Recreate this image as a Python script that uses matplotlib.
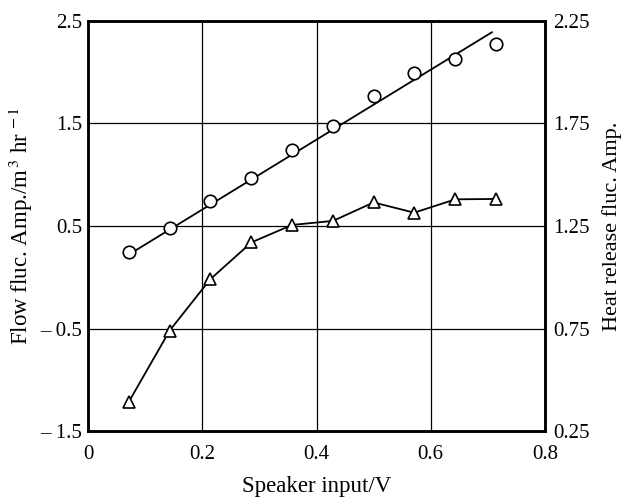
import numpy as np
import matplotlib
matplotlib.use('Agg')
import matplotlib.pyplot as plt

plt.rcParams.update({
    'font.family': 'Liberation Serif',
    'mathtext.fontset': 'stix',
    'font.size': 15,
})

# data
speaker_v = [0.071, 0.143, 0.214, 0.286, 0.357, 0.429, 0.500, 0.571, 0.643, 0.714]
flow_amp = [0.25, 0.48, 0.74, 0.97, 1.24, 1.48, 1.77, 1.99, 2.13, 2.28]
heat_amp = [0.39, 0.74, 0.99, 1.17, 1.255, 1.275, 1.365, 1.315, 1.38, 1.382]
fit_x = [0.071, 0.707]
fit_y = [0.22, 2.39]

left_ticks = [-1.5, -0.5, 0.5, 1.5, 2.5]
left_labels = ['\u2013 1.5', '\u2013 0.5', '0.5', '1.5', '2.5']
right_ticks = [0.25, 0.75, 1.25, 1.75, 2.25]
right_labels = ['0.25', '0.75', '1.25', '1.75', '2.25']
x_ticks = [0, 0.2, 0.4, 0.6, 0.8]
x_labels = ['0', '0.2', '0.4', '0.6', '0.8']

fig = plt.figure(figsize=(6.25, 4.99), dpi=100)
ax = fig.add_axes([88 / 625, 68 / 499, 457 / 625, 410 / 499])
ax2 = ax.twinx()

ax.set_xlim(0, 0.8)
ax.set_ylim(-1.5, 2.5)
ax2.set_ylim(0.25, 2.25)

ax.set_xticks(x_ticks)
ax.set_xticklabels(x_labels)
ax.set_yticks(left_ticks)
ax.set_yticklabels(left_labels)
ax2.set_yticks(right_ticks)
ax2.set_yticklabels(right_labels)

ax.grid(True, color='black', linewidth=0.9)
ax.tick_params(axis='y', length=0, pad=4)
ax.tick_params(axis='x', length=0, pad=10)
ax2.tick_params(length=0, pad=6)
for a in (ax, ax2):
    for s in a.spines.values():
        s.set_linewidth(1.8)

ax.plot(fit_x, fit_y, color='black', linewidth=1.3, zorder=3)
ax.plot(speaker_v, flow_amp, linestyle='none', marker='o', markersize=9,
        markerfacecolor='white', markeredgecolor='black', markeredgewidth=1.2, zorder=4)
ax2.plot(speaker_v, heat_amp, color='black', linewidth=1.3, marker='^', markersize=8,
         markerfacecolor='white', markeredgecolor='black', markeredgewidth=1.2, zorder=4)

ax.set_xlabel('Speaker input/V', fontsize=16.5, labelpad=9)
ax.set_ylabel('Flow fluc. Amp./m$^{\\,3}$ hr$^{\\,-1}$', fontsize=16.5, labelpad=4)
ax2.set_ylabel('Heat release fluc. Amp.', fontsize=16, labelpad=9)

fig.savefig('out.png', dpi=100)
